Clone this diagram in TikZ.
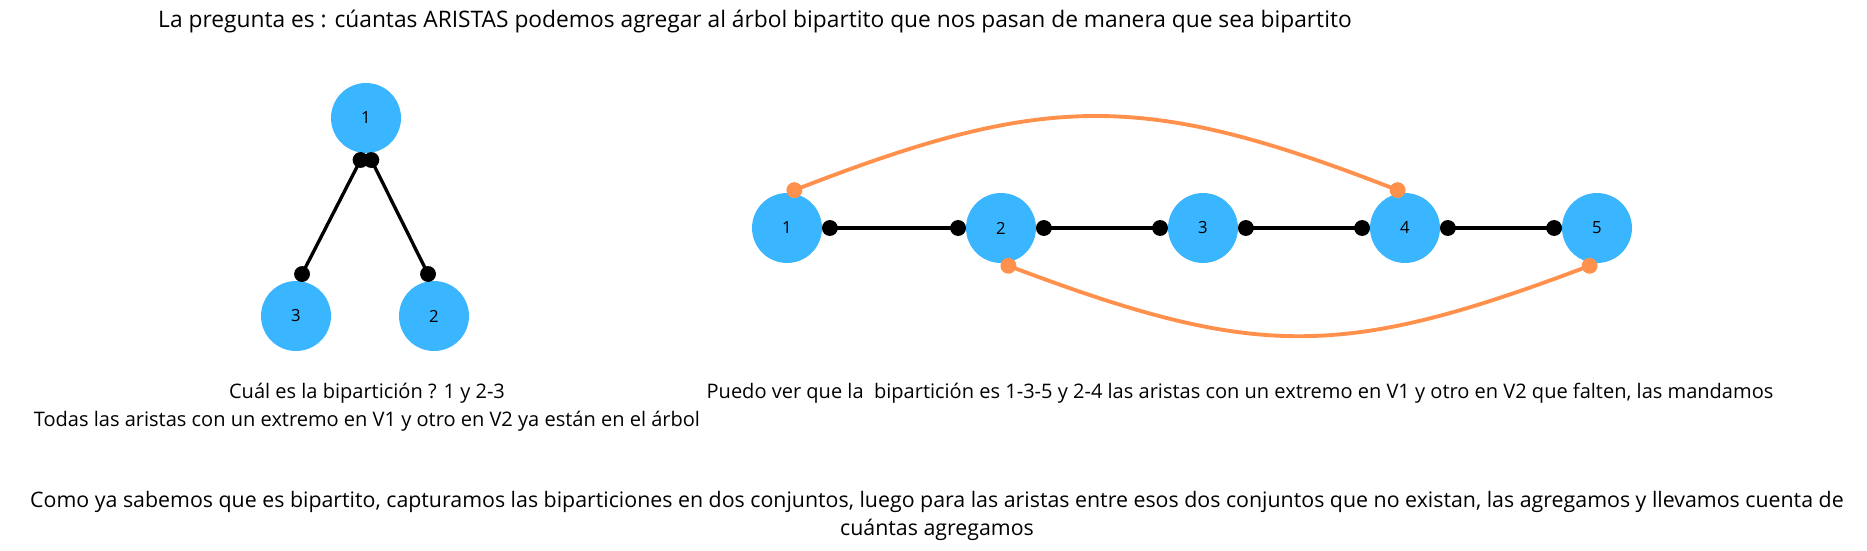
\documentclass[tikz,border=0pt]{standalone}
\usepackage{fontspec}
\setmainfont{Open Sans}
\usetikzlibrary{arrows.meta}
\definecolor{azul}{RGB}{58,181,255}
\definecolor{naranja}{RGB}{255,145,77}

\begin{document}
\begin{tikzpicture}[x=0.02cm, y=-0.02cm,
    vert/.style={circle, fill=azul, minimum size=1.4cm, inner sep=0pt, outer sep=0pt, font=\fontsize{9.5}{11}\selectfont},
    arista/.style={line width=1.9pt, {Circle[length=9pt]}-{Circle[length=9pt]}},
    nueva/.style={line width=2.2pt, draw=naranja, {Circle[length=9pt]}-{Circle[length=9pt]}},
    texto/.style={font=\fontsize{11.4}{16.2}\selectfont, align=center}]
        \useasboundingbox (0,0) rectangle (1867,551);

        \node[texto, font=\fontsize{12.95}{16}\selectfont] (titulo) at (755,22) {La pregunta es : cúantas ARISTAS podemos agregar al árbol bipartito que nos pasan de manera que sea bipartito};

        % arbol
        \node[vert] (1t) at (366,118) {1};
        \node[vert] (3t) at (296,316) {3};
        \node[vert] (2t) at (434,316) {2};

        \draw[arista] (1t.-93) -- (3t.86);
        \draw[arista] (1t.-87) -- (2t.94);

        % camino
        \node[vert] (1c) at (787,228) {1};
        \node[vert] (2c) at (1001,228) {2};
        \node[vert] (3c) at (1203,228) {3};
        \node[vert] (4c) at (1405,228) {4};
        \node[vert] (5c) at (1597,228) {5};

        \draw[arista] (1c) -- (2c);
        \draw[arista] (2c) -- (3c);
        \draw[arista] (3c) -- (4c);
        \draw[arista] (4c) -- (5c);

        \draw[nueva] (1c.90) .. controls +(260,-101) and +(-260,-101) .. (4c.90);
        \draw[nueva] (2c.-90) .. controls +(255,96) and +(-255,96) .. (5c.-90);

        \node[texto] (capArbol) at (367,407) {Cuál es la bipartición ? 1 y 2-3\\Todas las aristas con un extremo en V1 y otro en V2 ya están en el árbol};
        \node[texto] (capCamino) at (1240,393) {Puedo ver que la \ bipartición es 1-3-5 y 2-4 las aristas con un extremo en V1 y otro en V2 que falten, las mandamos};

        \node[texto, font=\fontsize{12.15}{16.2}\selectfont] (resumen) at (937,516) {Como ya sabemos que es bipartito, capturamos las biparticiones en dos conjuntos, luego para las aristas entre esos dos conjuntos que no existan, las agregamos y llevamos cuenta de\\cuántas agregamos};
\end{tikzpicture}
\end{document}
